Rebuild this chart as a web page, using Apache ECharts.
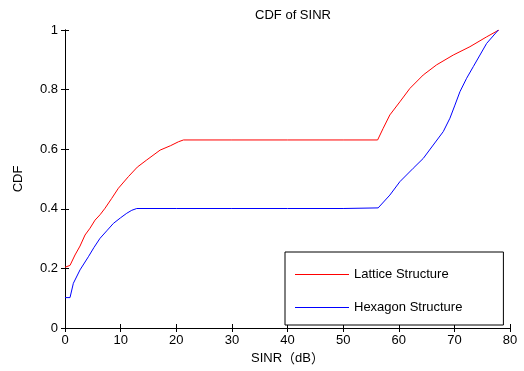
<!DOCTYPE html>
<html>
<head>
<meta charset="utf-8">
<script src="https://cdn.jsdelivr.net/npm/echarts@6/dist/echarts.min.js"></script>
<style>
  html, body { margin: 0; padding: 0; background: #fff; }
  #main { width: 524px; height: 371px; }
</style>
</head>
<body>
<div id="main"></div>
<script>
  // SINR (dB), CDF pairs
  const latticeX = [0, 0.9, 1.8, 2.7, 3.6, 4.5, 5.4, 6.3, 7.2, 8.4, 9.6, 11.4, 13.0, 14.7, 17.1, 19.0, 20.4, 21.3, 30, 40, 50, 56.2, 57.2, 58.4, 60.2, 62.0, 64.4, 66.8, 69.8, 72.8, 75.8, 78.0]
  const latticeY = [0.204, 0.21, 0.245, 0.275, 0.312, 0.335, 0.362, 0.38, 0.402, 0.435, 0.469, 0.508, 0.54, 0.564, 0.597, 0.612, 0.625, 0.631, 0.631, 0.631, 0.631, 0.631, 0.670, 0.715, 0.759, 0.804, 0.849, 0.883, 0.916, 0.944, 0.977, 1.0]
  const hexagonX = [0, 0.9, 1.5, 2.7, 4.2, 5.2, 6.3, 7.5, 8.7, 10.0, 11.1, 12.0, 12.9, 20, 30, 40, 50, 56.3, 58.4, 60.2, 62.6, 64.4, 66.2, 68.0, 69.2, 70.1, 71.0, 72.2, 73.4, 74.6, 75.8, 77.9]
  const hexagonY = [0.102, 0.102, 0.15, 0.195, 0.239, 0.27, 0.301, 0.326, 0.351, 0.37, 0.385, 0.395, 0.401, 0.401, 0.401, 0.401, 0.401, 0.403, 0.446, 0.491, 0.536, 0.569, 0.614, 0.659, 0.704, 0.748, 0.793, 0.838, 0.877, 0.916, 0.955, 1.0]
  const xTicks = [0, 10, 20, 30, 40, 50, 60, 70, 80]
  const yTicks = [0, 0.2, 0.4, 0.6, 0.8, 1]

  const font = 'Liberation Sans, Arial, Noto Sans CJK SC'
  const cjk = 'Noto Sans CJK SC'
  const chart = echarts.init(document.getElementById('main'))

  const boxAxis = (extra) => Object.assign({
    type: 'value',
    axisLine: { show: true, lineStyle: { color: '#000', width: 1 } },
    axisTick: { show: true, inside: true, length: 4, lineStyle: { color: '#000' } },
    splitLine: { show: false }
  }, extra)

  chart.setOption({
    animation: false,
    backgroundColor: '#fff',
    title: {
      text: 'CDF of SINR',
      left: 288,
      top: 4,
      textAlign: 'center',
      textStyle: { fontFamily: font, fontSize: 13, fontWeight: 'normal', color: '#000' }
    },
    grid: { left: 65, right: 14, top: 30, bottom: 43 },
    legend: {
      orient: 'vertical',
      left: 285,
      top: 252,
      padding: [16, 41, 11, 10],
      itemGap: 20,
      itemWidth: 54,
      itemHeight: 1,
      icon: 'rect',
      borderColor: '#000',
      borderWidth: 1,
      borderRadius: 0,
      backgroundColor: '#fff',
      textStyle: { fontFamily: font, fontSize: 13, color: '#000' },
      data: ['Lattice Structure', 'Hexagon Structure']
    },
    xAxis: [
      boxAxis({
        min: 0, max: 80, interval: 10,
        name: '{a|SINR}{b|（}{a|dB}{b|）}',
        nameLocation: 'middle',
        nameGap: 24,
        nameTextStyle: {
          fontFamily: font, fontSize: 13, color: '#000',
          rich: {
            a: { fontFamily: font, fontSize: 13, color: '#000' },
            b: { fontFamily: cjk, fontSize: 13, color: '#000' }
          }
        },
        axisLabel: { fontFamily: font, fontSize: 13, color: '#000', margin: 6,
          formatter: (v) => xTicks.includes(v) ? String(v) : '' }
      }),
      boxAxis({ min: 0, max: 80, interval: 10, position: 'top', axisLabel: { show: false } })
    ],
    yAxis: [
      boxAxis({
        min: 0, max: 1, interval: 0.2,
        name: 'CDF',
        nameLocation: 'middle',
        nameGap: 40,
        nameTextStyle: { fontFamily: font, fontSize: 13, color: '#000' },
        axisLabel: { fontFamily: font, fontSize: 13, color: '#000', margin: 7,
          formatter: (v) => yTicks.some((t) => Math.abs(t - v) < 1e-9) ? String(+v.toFixed(1)) : '' }
      }),
      boxAxis({ min: 0, max: 1, interval: 0.2, position: 'right', axisLabel: { show: false } })
    ],
    series: [
      {
        name: 'Lattice Structure',
        type: 'line',
        symbol: 'none',
        color: '#ff0000',
        lineStyle: { color: '#ff0000', width: 1 },
        data: latticeX.map((x, i) => [x, latticeY[i]])
      },
      {
        name: 'Hexagon Structure',
        type: 'line',
        symbol: 'none',
        color: '#0000ff',
        lineStyle: { color: '#0000ff', width: 1 },
        data: hexagonX.map((x, i) => [x, hexagonY[i]])
      }
    ]
  })
</script>
</body>
</html>
